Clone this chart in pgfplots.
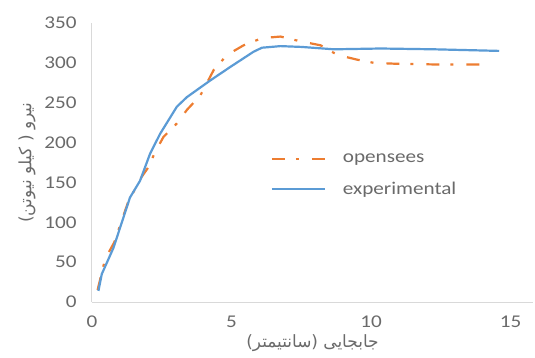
\documentclass[border=0pt]{standalone}
\usepackage{fontspec}
\setmainfont{Carlito}[FakeStretch=1.18]
\newfontfamily\arabicfont[Script=Arabic]{DejaVu Sans}
\TeXXeTstate=1
\usepackage{pgfplots}
\pgfplotsset{compat=1.18}
\usetikzlibrary{calc}
\definecolor{exblue}{HTML}{5B9BD5}
\definecolor{osorange}{HTML}{ED7D31}
\definecolor{txtgray}{HTML}{6A6A6A}
\definecolor{axgray}{HTML}{D9D9D9}
\begin{document}
\begin{tikzpicture}
\begin{axis}[
  name=ax,
  width=441bp, height=279bp, scale only axis,
  xmin=0, xmax=15.8, ymin=0, ymax=350,
  xtick={0,5,10,15}, ytick={0,50,100,150,200,250,300,350},
  axis lines=left,
  axis line style={-, draw=axgray, line width=1bp},
  major tick length=0pt,
  /pgf/number format/assume math mode=true,
  tick label style={font=\fontsize{18}{20}\selectfont, text=txtgray},
  yticklabel style={xshift=-12bp},
  xticklabel style={yshift=-10bp},
  clip=false,
  xlabel={\arabicfont\fontsize{17}{19}\selectfont\beginR جابجایی (سانتیمتر)\endR},
  ylabel={\arabicfont\fontsize{17}{19}\selectfont\beginR نیرو ( کیلو نیوتن)\endR},
  xlabel style={text=txtgray, yshift=-1bp},
  ylabel style={text=txtgray, yshift=2bp},
  every axis x label/.append style={anchor=north, at={(ticklabel cs:0.5)}},
  legend style={at={(0.398,0.545)}, anchor=north west, draw=none, fill=none,
    font=\fontsize{18}{20}\selectfont, text=txtgray, row sep=14bp,
    /tikz/every odd column/.append style={column sep=15bp}},
  legend cell align=left,
  legend image code/.code={\draw[#1, line cap=butt] (0bp,0bp) -- (53bp,0bp);},
]
\addplot[osorange, line width=2.2bp, dash pattern=on 13bp off 11bp on 3bp off 13bp] coordinates {
(0.2,15) (0.47,54) (0.8,75) (1.3,126) (1.78,157) (2.02,169) (2.26,188) (2.56,207)
(3.04,224) (3.40,241) (3.88,259) (4.36,291) (4.84,310) (5.43,322) (6.09,331)
(6.75,333) (7.47,327) (8.19,322) (8.79,310) (9.5,304) (10.1,300) (10.8,299)
(12.26,298) (13.93,298)
};
\addlegendentry{opensees}
\addplot[exblue, line width=2.2bp] coordinates {
(0.23,14) (0.35,35) (0.77,68) (1.36,131) (1.72,152) (1.9,169) (2.08,186)
(2.44,211) (3.04,245) (3.40,257) (4.24,278) (4.96,295) (5.79,314) (6.09,319)
(6.75,321) (7.5,320) (8.67,317) (10.34,318) (12.26,317) (14.59,315)
};
\addlegendentry{experimental}
\end{axis}
\pgfresetboundingbox
\path ($(ax.south west)+(-92bp,-56bp)$) rectangle ($(ax.north east)+(2bp,23bp)$);
\end{tikzpicture}
\end{document}
